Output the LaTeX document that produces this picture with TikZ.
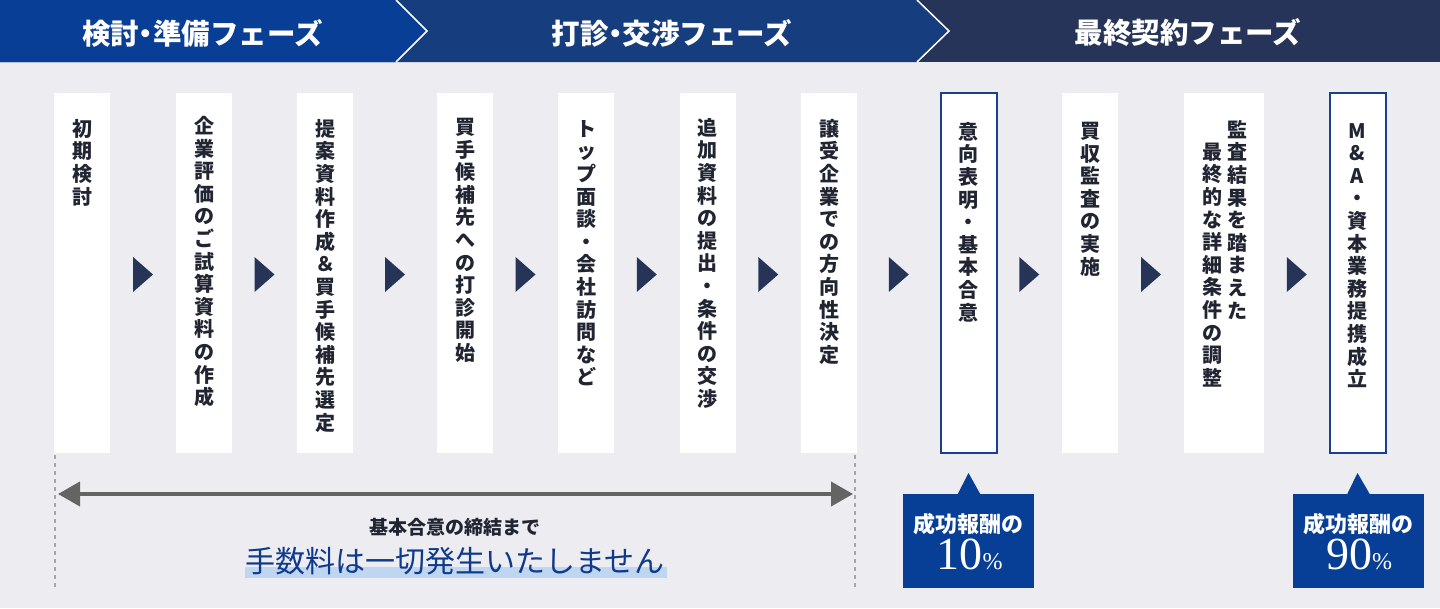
\documentclass[tikz,border=0pt]{standalone}
\usepackage{fontspec}
\newfontfamily\jp{Noto Sans CJK JP}
\newfontfamily\ser{Liberation Serif}
\usetikzlibrary{calc,arrows.meta}
\definecolor{hdA}{RGB}{8,62,150}
\definecolor{hdB}{RGB}{22,62,126}
\definecolor{hdC}{RGB}{37,52,88}
\definecolor{bg}{RGB}{236,236,241}
\definecolor{navy}{RGB}{38,52,88}
\definecolor{ink}{RGB}{33,37,50}
\definecolor{callblue}{RGB}{8,63,150}
\definecolor{frame}{RGB}{25,64,142}
\definecolor{hl}{RGB}{190,214,240}
\definecolor{arrgray}{RGB}{100,100,100}
\definecolor{dashgray}{RGB}{165,165,170}
\definecolor{serblue}{RGB}{14,58,140}
\newcommand\ndot{\hbox to 0.5em{\hss ・\hss}}
\begin{document}
\begin{tikzpicture}[x=1pt,y=-1pt,
  stepbox/.style={fill=white, draw=none, minimum width=56pt, minimum height=360pt, inner sep=0pt, outer sep=0pt},
  keybox/.style={stepbox, draw=frame, line width=2pt},
  vtext/.style={font=\jp\bfseries\fontsize{20}{22.6}\selectfont, text=ink, align=center, inner sep=0pt, anchor=north},
  hdtext/.style={font=\jp\bfseries\fontsize{28.5}{28.5}\selectfont, text=white, inner sep=0pt},
  callbox/.style={fill=callblue, minimum width=131pt, minimum height=94pt, inner sep=0pt, outer sep=0pt},
  calltop/.style={font=\jp\bfseries\fontsize{22}{22}\selectfont, text=white, inner sep=0pt},
  callnum/.style={text=white, inner sep=0pt, anchor=base},
  guide/.style={draw=dashgray, line width=1.5pt, dash pattern=on 4pt off 4pt},
  span/.style={draw=arrgray, line width=4pt, {Triangle[length=22pt,width=24pt]}-{Triangle[length=22pt,width=24pt]}}
]
\useasboundingbox (0,0) rectangle (1440,608);
% background and header
\fill[bg] (0,62) rectangle (1440,608);
\fill[hdC] (0,0) rectangle (1440,62);
\fill[hdB] (0,0) -- (917,0) -- (949,31) -- (917,62) -- (0,62) -- cycle;
\fill[hdA] (0,0) -- (396,0) -- (427,31) -- (396,62) -- (0,62) -- cycle;
\draw[white, line width=1.5pt] (396,0) -- (427,31) -- (396,62);
\draw[white, line width=1.5pt] (917,0) -- (949,31) -- (917,62);
\node[hdtext] (h1) at (202.5,33) {検討\ndot 準備フェーズ};
\node[hdtext] (h2) at (672,33) {打診\ndot 交渉フェーズ};
\node[hdtext] (h3) at (1188,33) {最終契約フェーズ};

% step boxes
\node[stepbox] (b1) at (82,273) {};
\node[stepbox] (b2) at (204,273) {};
\node[stepbox] (b3) at (325,273) {};
\node[stepbox] (b4) at (465,273) {};
\node[stepbox] (b5) at (586,273) {};
\node[stepbox] (b6) at (707.5,273) {};
\node[stepbox] (b7) at (829,273) {};
\node[keybox] (b8) at (968.5,273) {};
\node[stepbox] (b9) at (1090,273) {};
\node[stepbox, minimum width=80pt] (b10) at (1224,273) {};
\node[keybox] (b11) at (1357.5,273) {};

% vertical texts
\node[vtext] (t1) at ($(b1.north)+(0,26)$) {初\\期\\検\\討};
\node[vtext] (t2) at ($(b2.north)+(0,23)$) {企\\業\\評\\価\\の\\ご\\試\\算\\資\\料\\の\\作\\成};
\node[vtext] (t3) at ($(b3.north)+(0,26)$) {提\\案\\資\\料\\作\\成\\＆\\買\\手\\候\\補\\先\\選\\定};
\node[vtext] (t4) at ($(b4.north)+(0,25)$) {買\\手\\候\\補\\先\\へ\\の\\打\\診\\開\\始};
\node[vtext] (t5) at ($(b5.north)+(0,27)$) {ト\\ッ\\プ\\面\\談\\・\\会\\社\\訪\\問\\な\\ど};
\node[vtext] (t6) at ($(b6.north)+(0,25)$) {追\\加\\資\\料\\の\\提\\出\\・\\条\\件\\の\\交\\渉};
\node[vtext] (t7) at ($(b7.north)+(0,26)$) {譲\\受\\企\\業\\で\\の\\方\\向\\性\\決\\定};
\node[vtext] (t8) at ($(b8.north)+(0,29)$) {意\\向\\表\\明\\・\\基\\本\\合\\意};
\node[vtext] (t9) at ($(b9.north)+(0,29)$) {買\\収\\監\\査\\の\\実\\施};
\node[vtext] (t10a) at ($(b10.north)+(13,27)$) {監\\査\\結\\果\\を\\踏\\ま\\え\\た};
\node[vtext] (t10b) at ($(b10.north)+(-12,49.6)$) {最\\終\\的\\な\\詳\\細\\条\\件\\の\\調\\整};
\node[vtext] (t11) at ($(b11.north)+(0,30)$) {M\\\&\\A\\・\\資\\本\\業\\務\\提\\携\\成\\立};

% triangles between steps
\foreach \a/\b in {b1/b2,b2/b3,b3/b4,b4/b5,b5/b6,b6/b7,b7/b8,b8/b9,b9/b10,b10/b11}{
  \coordinate (m) at ($(\a.east)!0.5!(\b.west)+(0,1.5)$);
  \fill[navy] ($(m)+(-10,-17.5)$) -- ($(m)+(10,0)$) -- ($(m)+(-10,17.5)$) -- cycle;
}

% guides and span arrow
\coordinate (g1a) at ($(b1.south west)+(1,2)$);
\coordinate (g1b) at ($(b1.south west)+(1,135)$);
\coordinate (g2a) at ($(b7.south east)+(-2,2)$);
\coordinate (g2b) at ($(b7.south east)+(-2,135)$);
\draw[guide] (g1a) -- (g1b);
\draw[guide] (g2a) -- (g2b);
\coordinate (sa) at (58,494);
\coordinate (sb) at (853,494);
\draw[span] (sa) -- (sb);
\node[font=\jp\bfseries\fontsize{19}{19}\selectfont, text=ink, inner sep=0pt] (n1) at (455,527) {基本合意の締結まで};
\fill[hl] (245,567) rectangle (667,578);
\node[font=\jp\fontsize{30}{30}\selectfont, text=serblue, inner sep=0pt] (n2) at (455,561) {手数料は一切発生いたしません};

% callouts
\node[callbox] (c1) at (968.5,541) {};
\fill[callblue] ($(c1.north)+(-11,0.5)$) -- ($(b8.south)+(0,20)$) -- ($(c1.north)+(12,0.5)$) -- cycle;
\node[calltop] (c1t) at ($(c1.north)+(0,30)$) {成功報酬の};
\node[callnum] (c1n) at ($(c1.south)+(1,-19)$) {\ser\fontsize{46}{46}\selectfont 10\fontsize{24}{24}\selectfont\%};

\node[callbox] (c2) at (1358,541) {};
\fill[callblue] ($(c2.north)+(-11,0.5)$) -- ($(b11.south)+(0,20)$) -- ($(c2.north)+(12,0.5)$) -- cycle;
\node[calltop] (c2t) at ($(c2.north)+(0,30)$) {成功報酬の};
\node[callnum] (c2n) at ($(c2.south)+(1,-19)$) {\ser\fontsize{46}{46}\selectfont 90\fontsize{24}{24}\selectfont\%};
\end{tikzpicture}
\end{document}
